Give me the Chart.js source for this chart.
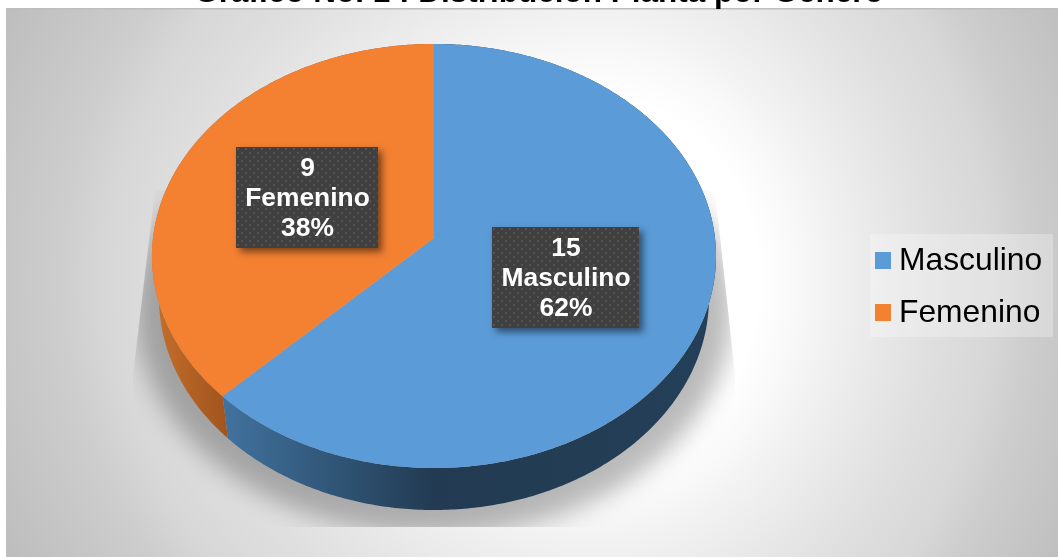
<!DOCTYPE html>
<html>
<head>
<meta charset="utf-8">
<style>html,body{margin:0;padding:0;background:#fff}canvas{display:block}</style>
<script src="https://cdn.jsdelivr.net/npm/chart.js@4"></script>
</head>
<body>
<canvas id="c" width="1058" height="557"></canvas>
<script>
const categories = ['Masculino', 'Femenino'];
const counts = [15, 9];
const percentLabels = ['62%', '38%'];
const sliceColors = ['#5b9bd8', '#f48132'];
const chartTitle = 'Gráfico No. 1 : Distribución Planta por Genero';

const FONT = '"Liberation Sans", Arial, sans-serif';
// tilted-disc projection of the pie
const AX = 434, AY = 238, RX = 281, RY = 210.5, K = -0.0849;
const DEPTH = 42, SHRINK = 0.975;
function project(t) {
  const u = Math.cos(t), v = Math.sin(t), w = 1 + K * v;
  return [AX + RX * u / w, AY + RY * v / w];
}
function lower(p) { return [AX + (p[0] - AX) * SHRINK, p[1] + DEPTH]; }
function arcPoints(a, b) {
  const n = Math.max(8, Math.ceil((b - a) * 90)), pts = [];
  for (let i = 0; i <= n; i++) pts.push(project(a + (b - a) * i / n));
  return pts;
}
function faceDraw(ctx) {
  const { startAngle, endAngle } = this.getProps(['startAngle', 'endAngle'], true);
  const pts = arcPoints(startAngle, endAngle);
  ctx.save();
  ctx.beginPath();
  ctx.moveTo(AX, AY);
  pts.forEach(p => ctx.lineTo(p[0], p[1]));
  ctx.closePath();
  ctx.fillStyle = this.options.backgroundColor;
  ctx.fill();
  ctx.restore();
}
function dotPattern(ctx) {
  const c = document.createElement('canvas');
  c.width = 8; c.height = 8;
  const g = c.getContext('2d');
  g.fillStyle = '#404040'; g.fillRect(0, 0, 8, 8);
  g.fillStyle = '#535353';
  g.fillRect(1, 1, 2, 2); g.fillRect(5, 5, 2, 2);
  return ctx.createPattern(c, 'repeat');
}

const pieDecor = {
  id: 'pieDecor',
  afterLayout(chart) {
    const t = chart.titleBlock;
    if (t) { t.top = -26; t.left += 10; t.right += 10; }
  },
  beforeDraw(chart) {
    const ctx = chart.ctx;
    const W = chart.width, H = chart.height;
    const GX = 600, GY = 280, GR = 500;
    ctx.save();
    ctx.fillStyle = '#fff';
    ctx.fillRect(0, 0, W, H);
    const g = ctx.createRadialGradient(0, 0, 0, 0, 0, GR);
    [[0, '#ffffff'], [150, '#ffffff'], [190, '#f8f8f8'], [212, '#f3f3f3'], [270, '#e8e8e8'],
     [320, '#dfdfdf'], [375, '#d7d7d7'], [410, '#cdcdcd'], [500, '#bebebe']]
      .forEach(s => g.addColorStop(s[0] / GR, s[1]));
    [[GX, W - GX, 1.05], [6, GX - 6, 1.32]].forEach(([x, w, sx]) => {
      ctx.save();
      ctx.beginPath(); ctx.rect(x, 8, w, H - 8); ctx.clip();
      ctx.translate(GX, GY);
      ctx.scale(sx, 1.2);
      ctx.fillStyle = g;
      ctx.fillRect(-2000, -2000, 4000, 4000);
      ctx.restore();
    });
    ctx.fillStyle = '#bdbdbd';
    ctx.fillRect(6, 8, W - 6, 1.5);
    ctx.restore();
  },
  beforeDatasetsDraw(chart) {
    const ctx = chart.ctx;
    const meta = chart.getDatasetMeta(0);
    // ground shadow
    ctx.save();
    ctx.beginPath();
    ctx.moveTo(155, 190); ctx.lineTo(133, 375); ctx.lineTo(133, 527);
    ctx.lineTo(735, 527); ctx.lineTo(735, 375); ctx.lineTo(715, 190);
    ctx.closePath();
    ctx.clip();
    ctx.filter = 'blur(12px)';
    ctx.fillStyle = 'rgba(0,0,0,0.27)';
    ctx.beginPath();
    ctx.ellipse(434, 310, 298, 225, 0, 0, Math.PI * 2);
    ctx.fill();
    ctx.restore();
    // side walls
    const wallStops = [
      [[221, '#41739f'], [434, '#223b52'], [716, '#243f58']],
      [[152, '#c56f2c'], [228, '#a0541d']]
    ];
    meta.data.forEach((el, i) => {
      const { startAngle, endAngle } = el.getProps(['startAngle', 'endAngle'], true);
      const pts = arcPoints(startAngle, endAngle);
      const stops = wallStops[i];
      const x0 = stops[0][0], x1 = stops[stops.length - 1][0];
      const g = ctx.createLinearGradient(x0, 0, x1, 0);
      stops.forEach(s => g.addColorStop((s[0] - x0) / (x1 - x0), s[1]));
      ctx.save();
      ctx.beginPath();
      pts.forEach((p, k) => k ? ctx.lineTo(p[0], p[1]) : ctx.moveTo(p[0], p[1]));
      pts.slice().reverse().forEach(p => { const q = lower(p); ctx.lineTo(q[0], q[1]); });
      ctx.closePath();
      ctx.fillStyle = g;
      ctx.fill();
      ctx.restore();
      el.draw = faceDraw;
    });
  },
  afterDatasetsDraw(chart) {
    const ctx = chart.ctx;
    const boxes = [[492, 227, 147, 101], [236, 147, 142, 101]];
    const pat = dotPattern(ctx);
    categories.forEach((name, i) => {
      const b = boxes[i];
      ctx.save();
      ctx.shadowColor = 'rgba(0,0,0,0.5)';
      ctx.shadowBlur = 7;
      ctx.shadowOffsetX = 4;
      ctx.shadowOffsetY = 4;
      ctx.fillStyle = '#404040';
      ctx.fillRect(b[0], b[1], b[2], b[3]);
      ctx.restore();
      ctx.save();
      ctx.translate(b[0], b[1]);
      ctx.fillStyle = pat;
      ctx.fillRect(0, 0, b[2], b[3]);
      ctx.restore();
      ctx.save();
      ctx.fillStyle = '#fff';
      ctx.font = 'bold 26.4px ' + FONT;
      ctx.textAlign = 'center';
      ctx.textBaseline = 'middle';
      const cx = b[0] + b[2] / 2 + 0.5;
      [String(counts[i]), name, percentLabels[i]].forEach((t, k) => {
        ctx.fillText(t, cx, b[1] + 22 + k * 30);
      });
      ctx.restore();
    });
    // legend
    ctx.save();
    ctx.fillStyle = 'rgba(255,255,255,0.28)';
    ctx.fillRect(870, 234, 183, 103);
    ctx.font = '31.8px ' + FONT;
    ctx.textBaseline = 'middle';
    ctx.textAlign = 'left';
    categories.forEach((name, i) => {
      const y = 260 + i * 52;
      ctx.fillStyle = sliceColors[i];
      ctx.fillRect(875, y - 8, 16, 17);
      ctx.fillStyle = '#000';
      ctx.fillText(name, 899, y + 1);
    });
    ctx.restore();
  }
};

new Chart(document.getElementById('c'), {
  type: 'pie',
  data: {
    labels: categories,
    datasets: [{ data: counts, backgroundColor: sliceColors, borderWidth: 0 }]
  },
  options: {
    responsive: false,
    animation: false,
    events: [],
    plugins: {
      legend: { display: false },
      tooltip: { enabled: false },
      title: {
        display: true,
        text: chartTitle,
        color: '#000',
        padding: 0,
        font: { family: FONT, size: 31.5, weight: 'bold' }
      }
    }
  },
  plugins: [pieDecor]
});
</script>
</body>
</html>
